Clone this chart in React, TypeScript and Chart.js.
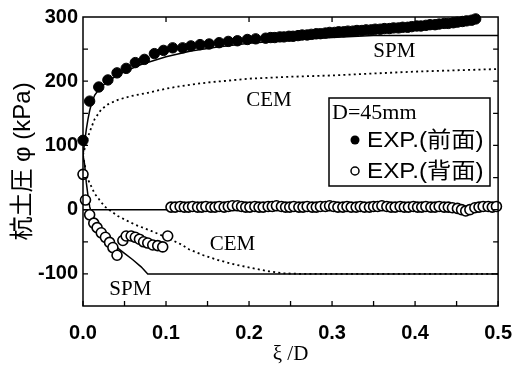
import React, { useEffect, useRef } from "react";
import { Chart, registerables } from "chart.js";

Chart.register(...registerables);

// ---- axis ticks ----
const xTickValues = [0, 0.1, 0.2, 0.3, 0.4, 0.5];
const yTickValues = [-100, 0, 100, 200, 300];
const xTickMarksBottom = [0, 0.05, 0.1, 0.15, 0.2, 0.25, 0.3, 0.35, 0.4, 0.45, 0.5];
const xTickMarksTop = [0.1, 0.2, 0.3, 0.4];
const yTickMarks = [-100, -50, 0, 50, 100, 150, 200, 250];

// ---- experimental data: front face (filled circles) ----
const frontPts: number[][] = [
  [0, 108], [0.008, 169], [0.019, 191], [0.030, 202], [0.041, 213], [0.052, 220], [0.063, 229],
  [0.074, 234], [0.086, 243], [0.097, 248], [0.108, 252], [0.120, 252], [0.130, 255], [0.141, 257],
  [0.152, 258], [0.164, 260], [0.175, 262], [0.186, 263], [0.198, 265], [0.208, 266], [0.220, 267],
  [0.226, 268], [0.231, 268], [0.237, 269], [0.242, 269], [0.248, 270], [0.253, 270], [0.259, 271],
  [0.264, 272], [0.270, 272], [0.275, 273], [0.281, 274], [0.286, 274], [0.292, 275], [0.297, 276],
  [0.303, 276], [0.308, 277], [0.314, 277], [0.319, 278], [0.325, 278], [0.330, 279], [0.336, 279],
  [0.341, 280], [0.347, 280], [0.352, 281], [0.358, 281], [0.363, 282], [0.369, 282], [0.374, 283],
  [0.380, 283], [0.385, 284], [0.391, 284], [0.396, 285], [0.402, 286], [0.407, 286], [0.413, 287],
  [0.418, 288], [0.424, 288], [0.429, 289], [0.435, 290], [0.440, 290], [0.446, 291], [0.451, 292],
  [0.457, 293], [0.462, 294], [0.468, 295], [0.473, 297],
];

// ---- experimental data: back face (open circles) ----
const backPts: number[][] = [
  [0, 55], [0.003, 15], [0.008, -8], [0.013, -21], [0.017, -28], [0.022, -36], [0.027, -43],
  [0.032, -51], [0.036, -59], [0.041, -71],
  [0.048, -48], [0.052, -41], [0.058, -41], [0.063, -43], [0.068, -46], [0.073, -50], [0.078, -52],
  [0.084, -55], [0.090, -56], [0.096, -58], [0.102, -41],
  [0.106, 4], [0.111, 4], [0.117, 5], [0.122, 4], [0.127, 4], [0.132, 5], [0.138, 4], [0.143, 4],
  [0.148, 5], [0.154, 4], [0.159, 4], [0.164, 5], [0.170, 4], [0.175, 5], [0.180, 6], [0.186, 6],
  [0.191, 5], [0.196, 4], [0.201, 4], [0.207, 5], [0.212, 4], [0.217, 4], [0.223, 5], [0.228, 5],
  [0.233, 6], [0.239, 5], [0.244, 4], [0.249, 4], [0.254, 5], [0.260, 4], [0.265, 4], [0.270, 5],
  [0.276, 4], [0.281, 4], [0.286, 5], [0.292, 5], [0.297, 6], [0.302, 5], [0.307, 4], [0.313, 4],
  [0.318, 5], [0.323, 4], [0.329, 4], [0.334, 5], [0.339, 4], [0.345, 4], [0.350, 5], [0.355, 5],
  [0.360, 6], [0.366, 5], [0.371, 4], [0.376, 4], [0.382, 5], [0.387, 4], [0.392, 4], [0.398, 5],
  [0.403, 4], [0.408, 4], [0.413, 5], [0.419, 4], [0.424, 4], [0.429, 5], [0.435, 4], [0.440, 4],
  [0.445, 3], [0.451, 2], [0.456, 0], [0.461, -2], [0.466, 0], [0.472, 3], [0.477, 4], [0.482, 5],
  [0.488, 5], [0.493, 4], [0.498, 5],
];

// ---- theoretical curves ----
const spmFront: number[][] = [
  [0, 85], [0.002, 105], [0.004, 125], [0.006, 141], [0.008, 154], [0.010, 164], [0.014, 178],
  [0.02, 189], [0.03, 200], [0.04, 208], [0.05, 215], [0.07, 226], [0.1, 238], [0.13, 247],
  [0.16, 253], [0.2, 259], [0.25, 264], [0.3, 268], [0.35, 271], [0.5, 271],
];
const cemFront: number[][] = [
  [0, 85], [0.004, 105], [0.008, 121], [0.014, 141], [0.022, 156], [0.03, 164], [0.042, 171],
  [0.058, 177], [0.078, 182], [0.102, 189], [0.126, 194], [0.15, 198], [0.2, 204], [0.25, 207],
  [0.3, 209], [0.35, 212], [0.4, 215], [0.45, 217], [0.5, 219],
];
const spmBack: number[][] = [
  [0, 85], [0.002, 70], [0.004, 42], [0.006, 22], [0.008, 5], [0.010, -5], [0.015, -19],
  [0.02, -28], [0.03, -44], [0.04, -58], [0.05, -68], [0.06, -78], [0.07, -89], [0.078, -100],
  [0.5, -100],
];
const cemBack: number[][] = [
  [0, 85], [0.002, 70], [0.006, 47], [0.014, 25], [0.026, 5], [0.042, -10], [0.062, -23],
  [0.082, -33], [0.102, -44], [0.118, -54], [0.128, -62], [0.145, -71], [0.164, -79],
  [0.185, -86], [0.204, -91], [0.224, -96], [0.24, -99], [0.26, -100], [0.5, -100],
];
const zeroLine: number[][] = [[0, 0], [0.5, 0]];

// ---- curve labels (data coordinates) ----
const curveLabels: { text: string; x: number; y: number }[] = [
  { text: "SPM", x: 0.375, y: 247 },
  { text: "CEM", x: 0.224, y: 170 },
  { text: "CEM", x: 0.180, y: -54 },
  { text: "SPM", x: 0.057, y: -125 },
];

const legendTitle = "D=45mm";
const legendFront = "EXP.(前面)";
const legendBack = "EXP.(背面)";
const xTitle = "ξ /D";
const yTitle = "杭土圧 φ (kPa)";

const toXY = (pts: number[][]) => pts.map(([x, y]) => ({ x, y }));

const decorPlugin = {
  id: "decor",
  afterDatasetsDraw(chart: any) {
    const { ctx, chartArea } = chart;
    const { left, right, top, bottom } = chartArea;
    const xs = chart.scales.x;
    const ys = chart.scales.y;
    ctx.save();
    ctx.strokeStyle = "#000";
    ctx.lineWidth = 1.5;
    ctx.strokeRect(left, top, right - left, bottom - top);
    ctx.lineWidth = 1.3;
    ctx.beginPath();
    for (const v of xTickMarksBottom) {
      const px = xs.getPixelForValue(v);
      ctx.moveTo(px, bottom);
      ctx.lineTo(px, bottom - 5);
    }
    for (const v of xTickMarksTop) {
      const px = xs.getPixelForValue(v);
      ctx.moveTo(px, top);
      ctx.lineTo(px, top + 5);
    }
    for (const v of yTickMarks) {
      const py = ys.getPixelForValue(v);
      ctx.moveTo(left, py);
      ctx.lineTo(left + 5, py);
      ctx.moveTo(right, py);
      ctx.lineTo(right - 5, py);
    }
    ctx.stroke();

    // curve labels
    ctx.fillStyle = "#000";
    ctx.font = "21px 'Liberation Serif', 'Times New Roman', serif";
    ctx.textAlign = "center";
    ctx.textBaseline = "middle";
    for (const l of curveLabels) {
      ctx.fillText(l.text, xs.getPixelForValue(l.x), ys.getPixelForValue(l.y));
    }

    // legend box
    const bx = 329, by = 98, bw = 161, bh = 88;
    ctx.fillStyle = "#fff";
    ctx.fillRect(bx, by, bw, bh);
    ctx.lineWidth = 1.5;
    ctx.strokeRect(bx, by, bw, bh);
    ctx.fillStyle = "#000";
    ctx.textAlign = "left";
    ctx.textBaseline = "alphabetic";
    ctx.font = "22px 'Liberation Serif', 'Times New Roman', serif";
    ctx.fillText(legendTitle, bx + 3, by + 21);
    ctx.font = "22px 'Liberation Sans', 'Noto Sans CJK JP', sans-serif";
    for (const [txt, ty] of [[legendFront, by + 49], [legendBack, by + 80]] as [string, number][]) {
      ctx.save();
      ctx.translate(bx + 38, ty);
      ctx.scale(1.1, 1);
      ctx.fillText(txt, 0, 0);
      ctx.restore();
    }
    ctx.beginPath();
    ctx.arc(bx + 26, by + 42, 4.5, 0, Math.PI * 2);
    ctx.fill();
    ctx.beginPath();
    ctx.arc(bx + 26, by + 73, 4, 0, Math.PI * 2);
    ctx.lineWidth = 1.5;
    ctx.stroke();
    ctx.restore();
  },
};

export default function App() {
  const ref = useRef<HTMLCanvasElement>(null);
  useEffect(() => {
    if (!ref.current) return;
    const lineDs = (data: number[][], dotted: boolean) => ({
      data: toXY(data),
      showLine: true,
      pointRadius: 0,
      borderColor: "#000",
      borderWidth: dotted ? 1.8 : 1.5,
      borderDash: dotted ? [2, 3.2] : [],
      tension: 0,
      fill: false,
    });
    const chart = new Chart(ref.current, {
      type: "scatter",
      data: {
        datasets: [
          {
            data: toXY(frontPts),
            pointRadius: 5.2,
            pointBackgroundColor: "#000",
            pointBorderColor: "#000",
            pointBorderWidth: 1,
            showLine: false,
            clip: false,
          } as any,
          {
            data: toXY(backPts),
            pointRadius: 5,
            pointBackgroundColor: "#fff",
            pointBorderColor: "#000",
            pointBorderWidth: 1.6,
            showLine: false,
            clip: false,
          } as any,
          lineDs(spmFront, false),
          lineDs(cemFront, true),
          lineDs(spmBack, false),
          lineDs(cemBack, true),
          lineDs(zeroLine, false),
        ],
      },
      options: {
        animation: false,
        responsive: false,
        devicePixelRatio: 1,
        layout: { padding: { left: 0, right: 28, top: 11, bottom: 0 } },
        plugins: { legend: { display: false }, tooltip: { enabled: false } },
        scales: {
          x: {
            type: "linear",
            min: 0,
            max: 0.5,
            grid: { display: false, drawTicks: false },
            border: { display: false },
            afterBuildTicks: (s: any) => {
              s.ticks = xTickValues.map((v) => ({ value: v }));
            },
            afterFit: (s: any) => {
              s.height = 64;
            },
            ticks: {
              color: "#000",
              padding: 15,
              maxRotation: 0,
              font: { family: "'Liberation Sans', Arial, sans-serif", size: 20, weight: "bold" },
              callback: (v: any) => Number(v).toFixed(1),
            },
            title: {
              display: true,
              text: xTitle,
              color: "#000",
              font: { family: "'Liberation Serif', 'Times New Roman', serif", size: 21 },
              padding: { top: 0, bottom: 3 },
            },
          },
          y: {
            type: "linear",
            min: -150,
            max: 300,
            grid: { display: false, drawTicks: false },
            border: { display: false },
            afterBuildTicks: (s: any) => {
              s.ticks = yTickValues.map((v) => ({ value: v }));
            },
            afterFit: (s: any) => {
              s.width = 83;
            },
            ticks: {
              color: "#000",
              padding: 5,
              font: { family: "'Liberation Sans', Arial, sans-serif", size: 20, weight: "bold" },
              callback: (v: any) => String(v),
            },
            title: {
              display: true,
              text: yTitle,
              color: "#000",
              font: { family: "'Liberation Sans', 'Noto Sans CJK JP', sans-serif", size: 24 },
              padding: { top: 9, bottom: 0 },
            },
          },
        },
      } as any,
      plugins: [decorPlugin],
    });
    return () => chart.destroy();
  }, []);

  return (
    <div style={{ position: "absolute", left: 0, top: 0, width: 527, height: 370, background: "#fff" }}>
      <canvas ref={ref} width={527} height={370} style={{ display: "block" }} />
    </div>
  );
}
